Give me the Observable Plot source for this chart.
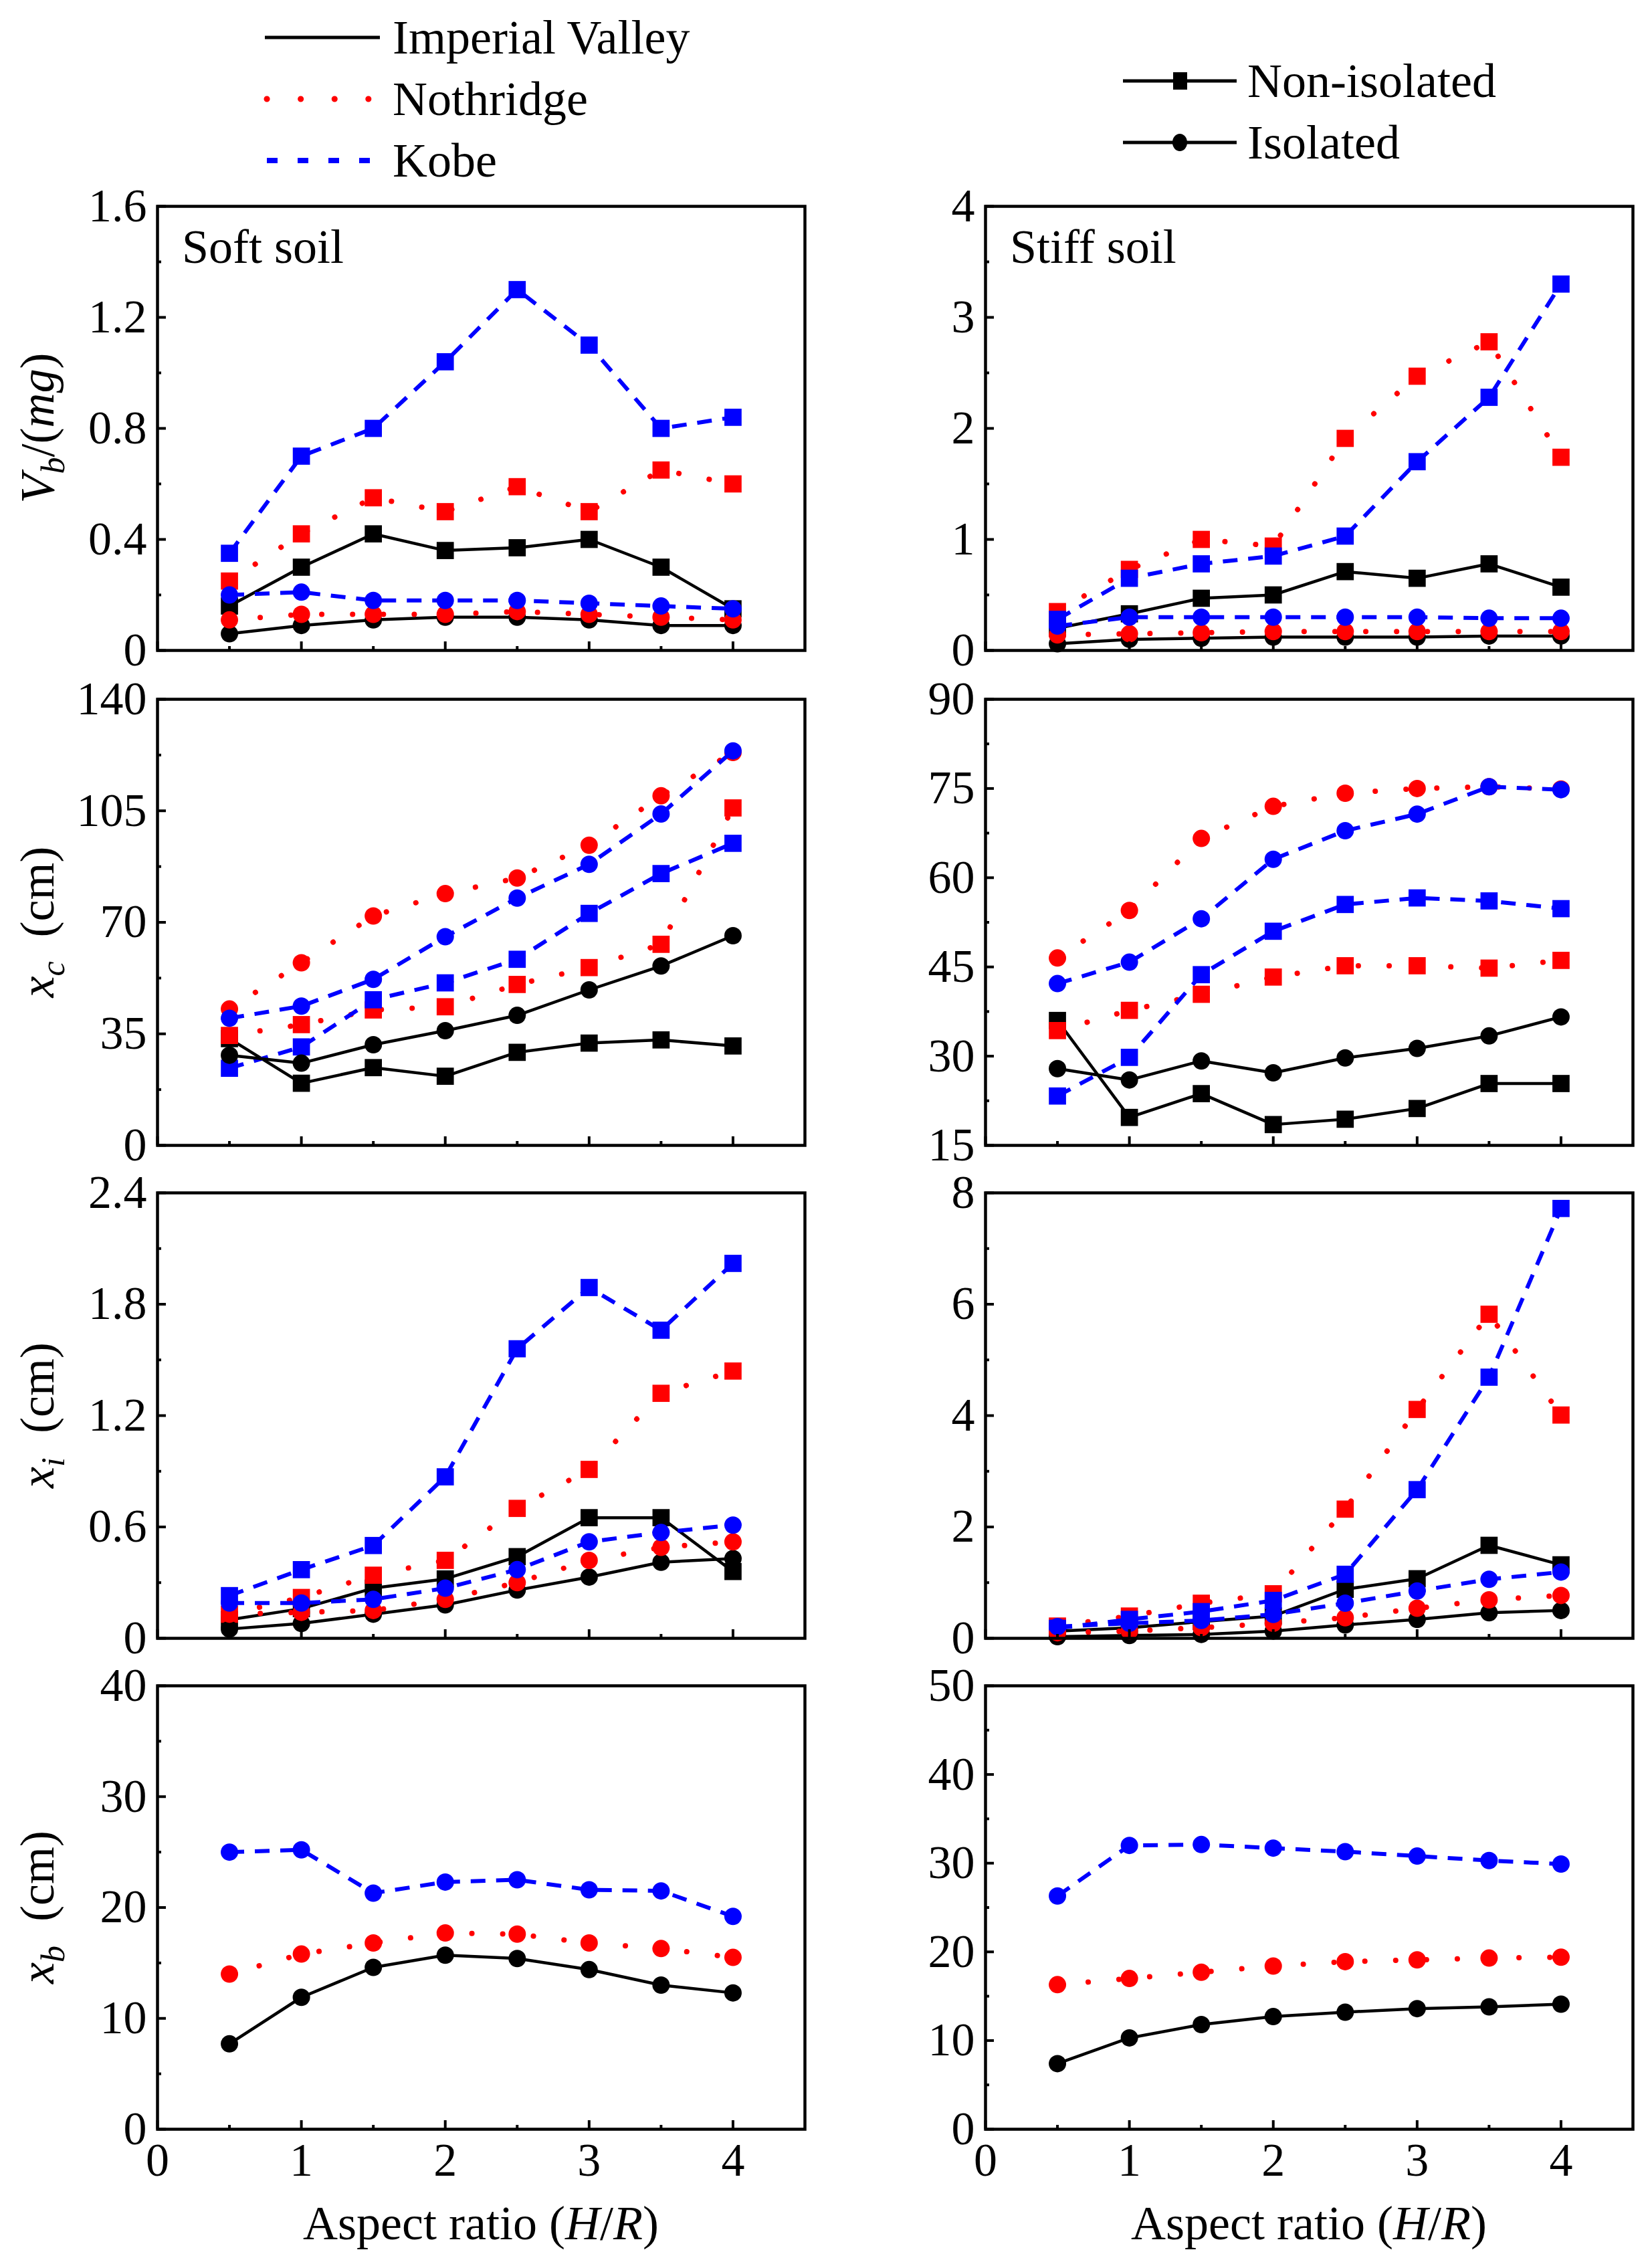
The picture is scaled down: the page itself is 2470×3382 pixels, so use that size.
<!DOCTYPE html>
<html>
<head>
<meta charset="utf-8">
<script src="https://cdn.jsdelivr.net/npm/d3@7"></script>
<script src="https://cdn.jsdelivr.net/npm/@observablehq/plot@0.6"></script>
<style>
html, body { margin: 0; padding: 0; background: #ffffff; }
#page { position: relative; width: 2470px; height: 3382px; background: #ffffff; overflow: hidden;
  font-family: "Liberation Serif", "Times New Roman", Times, "DejaVu Serif", serif; }
#page svg { position: absolute; }
#page svg text { font-family: "Liberation Serif", "Times New Roman", Times, "DejaVu Serif", serif !important; }
</style>
</head>
<body>
<div id="page"></div>
<script>
// ---------------- DATA ----------------
const aspectRatio = [0.5, 1, 1.5, 2, 2.5, 3, 3.5, 4];
const quakes = ["Imperial Valley", "Nothridge", "Kobe"];
const xTicks = [0, 1, 2, 3, 4];
const xMinorTicks = [0.5, 1.5, 2.5, 3.5];

// Vb/(mg), soft soil  [Imperial Valley, Nothridge, Kobe]
const vbSoftNonIsolated = [
  [0.16, 0.30, 0.42, 0.36, 0.37, 0.40, 0.30, 0.15],
  [0.25, 0.42, 0.55, 0.50, 0.59, 0.50, 0.65, 0.60],
  [0.35, 0.70, 0.80, 1.04, 1.30, 1.10, 0.80, 0.84]
];
const vbSoftIsolated = [
  [0.06, 0.09, 0.11, 0.12, 0.12, 0.11, 0.09, 0.09],
  [0.11, 0.13, 0.13, 0.13, 0.14, 0.13, 0.12, 0.11],
  [0.20, 0.21, 0.18, 0.18, 0.18, 0.17, 0.16, 0.15]
];
// Vb/(mg), stiff soil
const vbStiffNonIsolated = [
  [0.20, 0.33, 0.47, 0.50, 0.71, 0.65, 0.78, 0.57],
  [0.35, 0.73, 1.00, 0.94, 1.91, 2.47, 2.78, 1.74],
  [0.28, 0.65, 0.78, 0.85, 1.03, 1.70, 2.28, 3.30]
];
const vbStiffIsolated = [
  [0.06, 0.10, 0.11, 0.12, 0.12, 0.12, 0.13, 0.13],
  [0.14, 0.15, 0.16, 0.17, 0.17, 0.17, 0.17, 0.17],
  [0.22, 0.30, 0.30, 0.30, 0.30, 0.30, 0.29, 0.29]
];
// xc (cm), soft soil
const xcSoftNonIsolated = [
  [33.5, 19.5, 24.4, 21.7, 29.2, 32.1, 33.1, 31.2],
  [34.5, 37.9, 42.5, 43.5, 50.5, 55.8, 63.1, 105.9],
  [24.2, 30.9, 45.7, 51.0, 58.4, 72.8, 85.3, 94.8]
];
const xcSoftIsolated = [
  [28.3, 25.8, 31.6, 36.0, 40.8, 48.8, 56.3, 65.8],
  [42.8, 57.3, 72.0, 79.0, 83.9, 94.2, 109.7, 123.3],
  [39.9, 43.7, 52.1, 65.5, 77.6, 88.2, 104.0, 123.8]
];
// xc (cm), stiff soil
const xcStiffNonIsolated = [
  [36.0, 19.7, 23.7, 18.5, 19.4, 21.2, 25.4, 25.4],
  [34.3, 37.7, 40.4, 43.3, 45.2, 45.2, 44.8, 46.1],
  [23.3, 29.8, 43.7, 51.0, 55.5, 56.6, 56.1, 54.8]
];
const xcStiffIsolated = [
  [27.9, 26.0, 29.2, 27.2, 29.7, 31.3, 33.4, 36.6],
  [46.5, 54.5, 66.6, 72.0, 74.2, 75.0, 75.3, 74.9],
  [42.2, 45.8, 53.1, 63.1, 67.9, 70.7, 75.3, 74.8]
];
// xi (cm), soft soil
const xiSoftNonIsolated = [
  [0.10, 0.16, 0.27, 0.32, 0.44, 0.65, 0.65, 0.36],
  [0.13, 0.22, 0.34, 0.42, 0.70, 0.91, 1.32, 1.44],
  [0.23, 0.37, 0.50, 0.87, 1.56, 1.89, 1.66, 2.02]
];
const xiSoftIsolated = [
  [0.05, 0.08, 0.13, 0.18, 0.26, 0.33, 0.41, 0.43],
  [0.13, 0.14, 0.15, 0.21, 0.30, 0.42, 0.49, 0.52],
  [0.19, 0.19, 0.21, 0.27, 0.37, 0.52, 0.57, 0.61]
];
// xi (cm), stiff soil
const xiStiffNonIsolated = [
  [0.13, 0.19, 0.30, 0.40, 0.88, 1.07, 1.67, 1.32],
  [0.22, 0.40, 0.63, 0.80, 2.32, 4.11, 5.82, 4.01],
  [0.18, 0.34, 0.48, 0.68, 1.15, 2.67, 4.69, 7.72]
];
const xiStiffIsolated = [
  [0.03, 0.05, 0.07, 0.13, 0.24, 0.34, 0.46, 0.50],
  [0.10, 0.13, 0.19, 0.27, 0.37, 0.54, 0.69, 0.77],
  [0.21, 0.27, 0.32, 0.43, 0.63, 0.85, 1.06, 1.19]
];
// xb (cm), isolated only
const xbSoftIsolated = [
  [7.7, 11.9, 14.6, 15.7, 15.4, 14.4, 13.0, 12.3],
  [14.0, 15.8, 16.8, 17.7, 17.6, 16.8, 16.3, 15.5],
  [25.0, 25.2, 21.3, 22.3, 22.5, 21.6, 21.5, 19.2]
];
const xbStiffIsolated = [
  [7.4, 10.3, 11.8, 12.7, 13.2, 13.6, 13.8, 14.1],
  [16.3, 17.0, 17.7, 18.4, 18.9, 19.1, 19.3, 19.4],
  [26.3, 32.0, 32.1, 31.7, 31.3, 30.8, 30.3, 29.9]
];

// tick values
const vbSoftTicks = [0, 0.4, 0.8, 1.2, 1.6];
const vbStiffTicks = [0, 1, 2, 3, 4];
const xcSoftTicks = [0, 35, 70, 105, 140];
const xcStiffTicks = [15, 30, 45, 60, 75, 90];
const xiSoftTicks = [0, 0.6, 1.2, 1.8, 2.4];
const xiStiffTicks = [0, 2, 4, 6, 8];
const xbSoftTicks = [0, 10, 20, 30, 40];
const xbStiffTicks = [0, 10, 20, 30, 40, 50];

// ---------------- STYLE ----------------
const FONT = "'Liberation Serif', 'Times New Roman', Times, 'DejaVu Serif', serif";
const styles = {
  "Imperial Valley": {color: "#000000", strokeWidth: 4.5, dash: null, cap: "butt"},
  "Nothridge": {color: "#ff0000", strokeWidth: 8, dash: "0.1 46", cap: "round"},
  "Kobe": {color: "#0000ff", strokeWidth: 6, dash: "22 16", cap: "butt"}
};
const colX = [{left: 235, right: 1203}, {left: 1473, right: 2441}];
const rowY = [{top: 308, bottom: 972}, {top: 1045, bottom: 1712}, {top: 1783, bottom: 2449}, {top: 2520, bottom: 3183}];

const fmt1 = d => d === 0 ? "0" : d3.format(".1f")(d);
const fmt0 = d => String(d);

function minorOf(ticks) {
  const out = [];
  for (let i = 0; i < ticks.length - 1; i++) out.push((ticks[i] + ticks[i + 1]) / 2);
  return out;
}

function seriesMarks(groups, symbol) {
  const marks = [];
  groups.forEach((vals, qi) => {
    const s = styles[quakes[qi]];
    const data = aspectRatio.map((x, i) => ({x, y: vals[i], quake: quakes[qi]}));
    const lineOpts = {x: "x", y: "y", stroke: s.color, strokeWidth: s.strokeWidth, strokeLinecap: s.cap, strokeLinejoin: "round"};
    if (s.dash) lineOpts.strokeDasharray = s.dash;
    marks.push(Plot.line(data, lineOpts));
    marks.push(Plot.dot(data, {x: "x", y: "y", symbol, fill: s.color, stroke: "none", r: symbol === "square" ? 14.5 : 13}));
  });
  return marks;
}

const page = document.getElementById("page");

function panel({col, row, ticks, format, nonIsolated, isolated}) {
  const fl = colX[col].left, fr = colX[col].right, ft = rowY[row].top, fb = rowY[row].bottom;
  const ml = 220, mr = 20, mt = 50, mb = row === 3 ? 110 : 30;
  const width = (fr - fl) + ml + mr, height = (fb - ft) + mt + mb;
  const marks = [];
  if (nonIsolated) marks.push(...seriesMarks(nonIsolated, "square"));
  if (isolated) marks.push(...seriesMarks(isolated, "circle"));
  marks.push(
    Plot.axisY({ticks: ticks, tickSize: 0, tickPadding: 16, tickFormat: format, fontSize: 70, fontFamily: FONT, label: null}),
    Plot.axisY({ticks: ticks, tickSize: -13, strokeWidth: 4, tickFormat: () => "", label: null}),
    Plot.axisY({ticks: minorOf(ticks), tickSize: -6, strokeWidth: 4, tickFormat: () => "", label: null}),
    Plot.axisX({ticks: xTicks, tickSize: -13, strokeWidth: 4, tickFormat: () => "", label: null}),
    Plot.axisX({ticks: xMinorTicks, tickSize: -6, strokeWidth: 4, tickFormat: () => "", label: null})
  );
  if (row === 3) marks.push(Plot.axisX({ticks: xTicks, tickSize: 0, tickPadding: 20, tickFormat: fmt0, fontSize: 70, fontFamily: FONT, label: null}));
  marks.push(Plot.frame({stroke: "#000", strokeWidth: 4.5}));
  const chart = Plot.plot({
    width, height,
    marginLeft: ml, marginRight: mr, marginTop: mt, marginBottom: mb,
    x: {domain: [0, 4.5], axis: null},
    y: {domain: [ticks[0], ticks[ticks.length - 1]], axis: null},
    style: {fontFamily: FONT, fontSize: "70px", color: "#000", background: "transparent", overflow: "visible"},
    marks
  });
  chart.style.position = "absolute";
  chart.style.left = (fl - ml) + "px";
  chart.style.top = (ft - mt) + "px";
  page.appendChild(chart);
}

panel({col: 0, row: 0, ticks: vbSoftTicks, format: fmt1, nonIsolated: vbSoftNonIsolated, isolated: vbSoftIsolated});
panel({col: 1, row: 0, ticks: vbStiffTicks, format: fmt0, nonIsolated: vbStiffNonIsolated, isolated: vbStiffIsolated});
panel({col: 0, row: 1, ticks: xcSoftTicks, format: fmt0, nonIsolated: xcSoftNonIsolated, isolated: xcSoftIsolated});
panel({col: 1, row: 1, ticks: xcStiffTicks, format: fmt0, nonIsolated: xcStiffNonIsolated, isolated: xcStiffIsolated});
panel({col: 0, row: 2, ticks: xiSoftTicks, format: fmt1, nonIsolated: xiSoftNonIsolated, isolated: xiSoftIsolated});
panel({col: 1, row: 2, ticks: xiStiffTicks, format: fmt0, nonIsolated: xiStiffNonIsolated, isolated: xiStiffIsolated});
panel({col: 0, row: 3, ticks: xbSoftTicks, format: fmt0, isolated: xbSoftIsolated});
panel({col: 1, row: 3, ticks: xbStiffTicks, format: fmt0, isolated: xbStiffIsolated});

// ---------------- OVERLAY: labels & legend ----------------
const svg = d3.select(page).append("svg")
  .attr("width", 2470).attr("height", 3382)
  .style("left", "0px").style("top", "0px")
  .style("font-family", FONT).attr("font-size", 72).attr("fill", "#000");

function richText(parts, attrs) {
  const t = svg.append("text");
  Object.entries(attrs).forEach(([k, v]) => t.attr(k, v));
  parts.forEach(p => {
    const ts = t.append("tspan").text(p.t);
    if (p.i) ts.attr("font-style", "italic");
    if (p.sub) ts.attr("font-size", 50).attr("dy", 16);
    if (p.up) ts.attr("dy", -16);
  });
  return t;
}

// y-axis titles (left column)
const yTitleX = 80;
const yTitles = [
  {row: 0, parts: [{t: "V", i: true}, {t: "b", i: true, sub: true}, {t: "/(", up: true}, {t: "mg", i: true}, {t: ")"}]},
  {row: 1, parts: [{t: "x", i: true}, {t: "c", i: true, sub: true}, {t: "\u2002(cm)", up: true}]},
  {row: 2, parts: [{t: "x", i: true}, {t: "i", i: true, sub: true}, {t: "\u2002(cm)", up: true}]},
  {row: 3, parts: [{t: "x", i: true}, {t: "b", i: true, sub: true}, {t: "\u2002(cm)", up: true}]}
];
yTitles.forEach(({row, parts}) => {
  const cy = (rowY[row].top + rowY[row].bottom) / 2;
  richText(parts, {"text-anchor": "middle", transform: `translate(${yTitleX},${cy}) rotate(-90)`});
});

// x-axis titles
[0, 1].forEach(c => {
  const cx = (colX[c].left + colX[c].right) / 2;
  richText([{t: "Aspect ratio ("}, {t: "H", i: true}, {t: "/"}, {t: "R", i: true}, {t: ")"}],
    {"text-anchor": "middle", x: cx, y: 3348});
});

// panel annotations
svg.append("text").attr("x", colX[0].left + 37).attr("y", 393).text("Soft soil");
svg.append("text").attr("x", colX[1].left + 37).attr("y", 393).text("Stiff soil");

// legend: earthquakes
const legendQuake = [
  {name: "Imperial Valley", y: 56},
  {name: "Nothridge", y: 148},
  {name: "Kobe", y: 240}
];
legendQuake.forEach(({name, y}) => {
  const s = styles[name];
  const ln = svg.append("line").attr("x1", name === "Imperial Valley" ? 396 : 399).attr("x2", 568)
    .attr("y1", y).attr("y2", y).attr("stroke", s.color);
  if (name === "Imperial Valley") ln.attr("stroke-width", 5);
  if (name === "Nothridge") ln.attr("stroke-width", 9).attr("stroke-linecap", "round").attr("stroke-dasharray", "0.1 50.5");
  if (name === "Kobe") ln.attr("stroke-width", 8).attr("stroke-dasharray", "16 30");
  svg.append("text").attr("x", 587).attr("y", y + 24).text(name);
});

// legend: isolation
const legendIso = [
  {name: "Non-isolated", y: 121, symbol: "square"},
  {name: "Isolated", y: 213, symbol: "circle"}
];
legendIso.forEach(({name, y, symbol}) => {
  svg.append("line").attr("x1", 1679).attr("x2", 1849).attr("y1", y).attr("y2", y)
    .attr("stroke", "#000").attr("stroke-width", 5);
  if (symbol === "square") {
    svg.append("rect").attr("x", 1754).attr("y", y - 13).attr("width", 21).attr("height", 26).attr("fill", "#000");
  } else {
    svg.append("ellipse").attr("cx", 1764).attr("cy", y).attr("rx", 11).attr("ry", 13).attr("fill", "#000");
  }
  svg.append("text").attr("x", 1865).attr("y", y + 24).text(name);
});
</script>
</body>
</html>
